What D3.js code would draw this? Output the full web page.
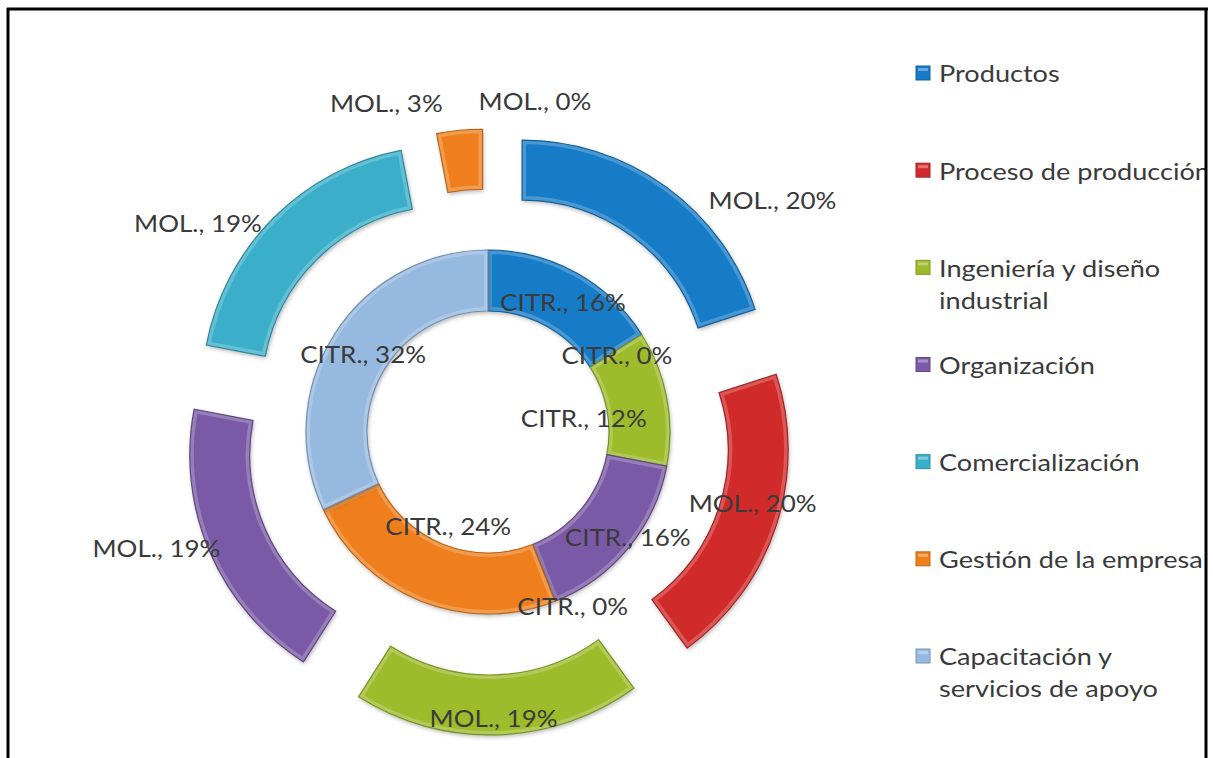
<!DOCTYPE html>
<html>
<head>
<meta charset="utf-8">
<script src="https://cdn.jsdelivr.net/npm/d3@7"></script>
<style>
  html, body { margin: 0; padding: 0; background: #fff; }
  svg { display: block; }
  text { font-family: Lato, "Open Sans", sans-serif; }
</style>
</head>
<body>
<svg id="chart" width="1213" height="758"></svg>
<script>
// Categories (legend order = slice order, clockwise from 12 o'clock)
const categories = [
  "Productos",
  "Proceso de producción",
  "Ingeniería y diseño industrial",
  "Organización",
  "Comercialización",
  "Gestión de la empresa",
  "Capacitación y servicios de apoyo"
];
// Legend text as it wraps in the legend box
const legendLines = [
  ["Productos"],
  ["Proceso de producción"],
  ["Ingeniería y diseño", "industrial"],
  ["Organización"],
  ["Comercialización"],
  ["Gestión de la empresa"],
  ["Capacitación y", "servicios de apoyo"]
];
// Inner ring: CITR. (%)
const citrValues = [16, 0, 12, 16, 0, 24, 32];
// Outer ring: MOL. (%)
const molValues = [20, 20, 19, 19, 19, 3, 0];
const seriesNames = ["CITR.", "MOL."];

const colors = ["#177bc7", "#d12a2a", "#9dbb2b", "#7a5aa6", "#3aafc9", "#ee7f1d", "#96b9e0"];

// Label nudges from each slice centroid (inner ring, then outer ring)
const innerNudge = [[2, 3], [1, 4], [-53, 14], [23, 9], [29, 33], [16, -47], [3, 3]];
const outerNudge = [[124, -11], [5, -13], [-3, 13], [-81, 8], [-97, -16], [-76, -57], [47, -58]];

const svg = d3.select("#chart");
const W = 1213, H = 758;
const cx = 488, cy = 432;
const innerR = [121, 182];
const outerR = [185, 245];
const explode = 58;
const textStretch = 1.13;

const defs = svg.append("defs");
const shadow = defs.append("filter").attr("id", "shadow")
  .attr("x", "-20%").attr("y", "-20%").attr("width", "140%").attr("height", "140%");
shadow.append("feDropShadow").attr("dx", 1).attr("dy", 2).attr("stdDeviation", 2)
  .attr("flood-color", "#000").attr("flood-opacity", 0.3);

const clipChart = defs.append("clipPath").attr("id", "frameClip");
clipChart.append("rect").attr("x", 9).attr("y", 10).attr("width", 1196).attr("height", H - 10);

const pie = d3.pie().sort(null).value(d => d).startAngle(0).endAngle(2 * Math.PI);

const root = svg.append("g").attr("clip-path", "url(#frameClip)");
const chartG = root.append("g").attr("transform", `translate(${cx},${cy})`);

function drawRing(values, radii, explodeDist, name, nudges, key) {
  const arc = d3.arc().innerRadius(radii[0]).outerRadius(radii[1]);
  const arcs = pie(values);
  const g = chartG.append("g");
  arcs.forEach((a, i) => {
    const mid = (a.startAngle + a.endAngle) / 2;
    const ox = Math.sin(mid) * explodeDist, oy = -Math.cos(mid) * explodeDist;
    a.offset = [ox, oy];
    if (a.endAngle - a.startAngle <= 0) return;
    const base = d3.color(colors[i]);
    const sg = g.append("g").attr("transform", `translate(${ox},${oy})`);
    const id = `clip-${key}-${i}`;
    defs.append("clipPath").attr("id", id).append("path").attr("d", arc(a));
    sg.append("path").attr("d", arc(a))
      .attr("fill", base.formatHex())
      .attr("filter", "url(#shadow)");
    // soft bevel: light band just inside the edges
    sg.append("path").attr("d", arc(a))
      .attr("fill", "none")
      .attr("stroke", "#ffffff").attr("stroke-opacity", 0.22).attr("stroke-width", 8)
      .attr("clip-path", `url(#${id})`);
    sg.append("path").attr("d", arc(a))
      .attr("fill", "none")
      .attr("stroke", base.darker(0.7).formatHex()).attr("stroke-width", 1.2);
  });
  return { arc, arcs, name, nudges };
}

const inner = drawRing(citrValues, innerR, 0, seriesNames[0], innerNudge, "in");
const outer = drawRing(molValues, outerR, explode, seriesNames[1], outerNudge, "out");

// Data labels: "series, value%"
[inner, outer].forEach(ring => {
  ring.arcs.forEach((a, i) => {
    const c = ring.arc.centroid(a);
    const x = c[0] + a.offset[0] + ring.nudges[i][0];
    const y = c[1] + a.offset[1] + ring.nudges[i][1];
    chartG.append("text")
      .attr("transform", `translate(${x},${y}) scale(${textStretch},1)`)
      .attr("text-anchor", "middle")
      .attr("dominant-baseline", "central")
      .attr("font-size", 23)
      .attr("fill", "#3a3a3a")
      .text(`${ring.name}, ${a.data}%`);
  });
});

// Legend
const legendY = d3.scalePoint().domain(d3.range(categories.length)).range([73, 656]);
const legend = root.append("g");
categories.forEach((cat, i) => {
  const y = legendY(i);
  const base = d3.color(colors[i]);
  legend.append("rect")
    .attr("x", 916).attr("y", y - 7).attr("width", 14).attr("height", 14)
    .attr("fill", base.formatHex())
    .attr("stroke", base.darker(0.6).formatHex()).attr("stroke-width", 1);
  legend.append("rect")
    .attr("x", 918).attr("y", y - 5).attr("width", 10).attr("height", 3)
    .attr("fill", "#fff").attr("opacity", 0.35);
  legendLines[i].forEach((line, j) => {
    legend.append("text")
      .attr("transform", `translate(939,${y + j * 32}) scale(${textStretch},1)`)
      .attr("dominant-baseline", "central")
      .attr("font-size", 24)
      .attr("fill", "#3a3a3a")
      .text(line);
  });
});

// Frame
const frame = svg.append("g").attr("stroke", "#000").attr("stroke-width", 3);
frame.append("line").attr("x1", 7).attr("x2", 1208).attr("y1", 9).attr("y2", 9);
frame.append("line").attr("x1", 8).attr("x2", 8).attr("y1", 8).attr("y2", H);
frame.append("line").attr("x1", 1206).attr("x2", 1206).attr("y1", 8).attr("y2", H);
</script>
</body>
</html>
